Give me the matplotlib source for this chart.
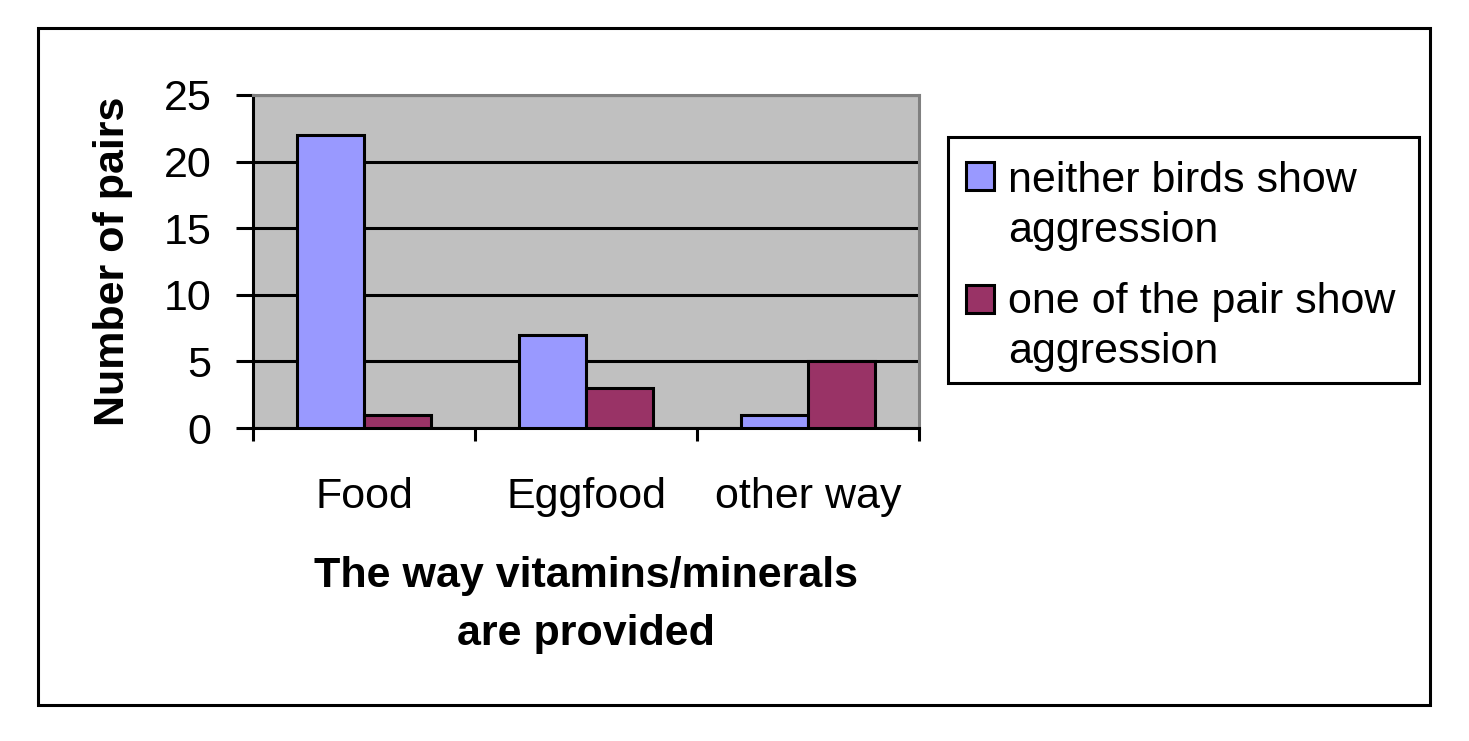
import matplotlib
matplotlib.use("Agg")
import matplotlib.pyplot as plt
from matplotlib.patches import Rectangle
import numpy as np

categories = ["Food", "Eggfood", "other way"]
neither = [22, 7, 1]
one_of_pair = [1, 3, 5]
series_labels = ["neither birds show\naggression", "one of the pair show\naggression"]
series_colors = ['#9999ff', '#993366']
yticks = [0, 5, 10, 15, 20, 25]

plt.rcParams['font.family'] = ['Liberation Sans', 'DejaVu Sans']
FS = 31

W, H = 1469, 741
fig = plt.figure(figsize=(W/100, H/100), dpi=100)

def fx(px): return px / W
def fy(py): return 1 - py / H

# outer border
fig.patches.append(Rectangle((fx(38), fy(705)), fx(1430) - fx(38), fy(28) - fy(705),
                             transform=fig.transFigure, fill=False, edgecolor='black',
                             linewidth=2.2, zorder=0))

ax = fig.add_axes([fx(253), fy(428), fx(919) - fx(253), fy(95) - fy(428)])
ax.set_facecolor('#c0c0c0')
x = np.arange(len(categories))
w = 0.3
ax.bar(x - w/2, neither, w, color=series_colors[0], edgecolor='black', linewidth=2.2, zorder=3)
ax.bar(x + w/2, one_of_pair, w, color=series_colors[1], edgecolor='black', linewidth=2.2, zorder=3)
ax.set_xlim(-0.5, 2.5)
ax.set_ylim(0, 25)
ax.set_yticks(yticks)
ax.yaxis.grid(True, color='black', linewidth=2.2, zorder=1)
ax.set_axisbelow(True)
ax.set_xticks([-0.5, 0.5, 1.5, 2.5])
ax.set_xticklabels([])
ax.set_xticks(x, minor=True)
ax.set_xticklabels(categories, minor=True)
ax.tick_params(axis='x', which='minor', length=0, pad=35, labelsize=FS)
ax.tick_params(axis='x', which='major', length=9.5, width=2.2, direction='out')
ax.tick_params(axis='y', length=12, width=2.2, direction='out', labelsize=FS, pad=18)
for s in ['left', 'bottom']:
    ax.spines[s].set_color('black')
    ax.spines[s].set_linewidth(2.2)
for s in ['top', 'right']:
    ax.spines[s].set_color('#808080')
    ax.spines[s].set_linewidth(2.2)

ax.set_xlabel("The way vitamins/minerals\nare provided", fontsize=FS, fontweight='bold',
              labelpad=28, linespacing=1.6)
ax.set_ylabel("Number of pairs", fontsize=FS, fontweight='bold', labelpad=22)

# legend (drawn in figure pixel layout)
fig.patches.append(Rectangle((fx(948), fy(383)), fx(1419) - fx(948), fy(137) - fy(383),
                             transform=fig.transFigure, facecolor='white', edgecolor='black',
                             linewidth=2.2, zorder=2))
sq_tops = [162, 285]
line_base = [[192, 242], [313, 363]]
for lab, col, top, bases in zip(series_labels, series_colors, sq_tops, line_base):
    fig.patches.append(Rectangle((fx(966), fy(top + 28)), fx(994) - fx(966), fy(top) - fy(top + 28),
                                 transform=fig.transFigure, facecolor=col, edgecolor='black',
                                 linewidth=2.2, zorder=3))
    for line, b in zip(lab.split("\n"), bases):
        fig.text(fx(1008), fy(b), line, fontsize=FS, va='baseline', ha='left', zorder=4)

fig.savefig("out.png", dpi=100)
